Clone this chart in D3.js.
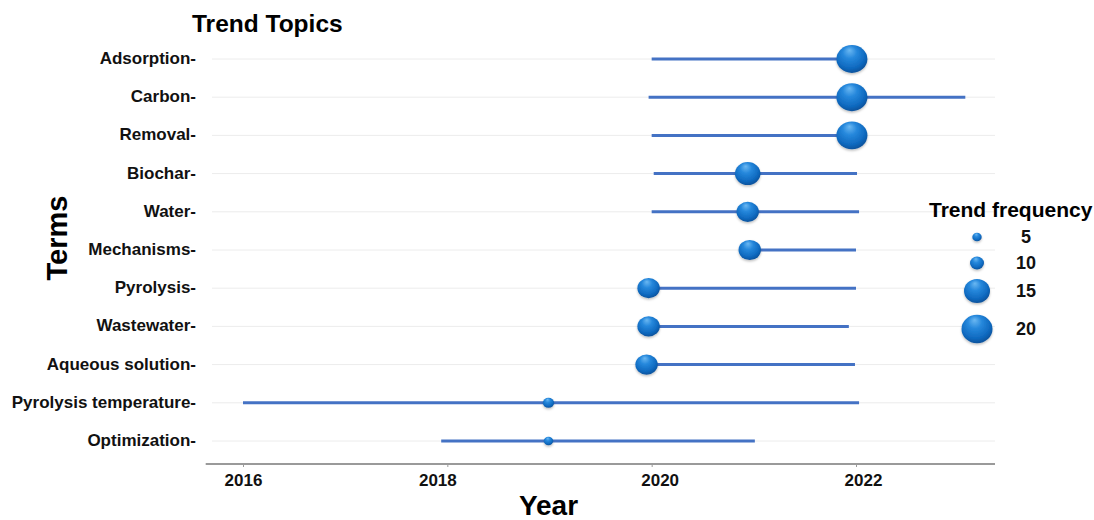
<!DOCTYPE html>
<html>
<head>
<meta charset="utf-8">
<script src="https://cdn.jsdelivr.net/npm/d3@7"></script>
<style>
  html, body { margin: 0; padding: 0; background: #ffffff; }
  svg { display: block; font-family: "Liberation Sans", Arial, sans-serif; }
</style>
</head>
<body>
<svg id="chart" width="1094" height="520"></svg>
<script>
// ---- data ----
const terms = ["Adsorption", "Carbon", "Removal", "Biochar", "Water", "Mechanisms",
  "Pyrolysis", "Wastewater", "Aqueous solution", "Pyrolysis temperature", "Optimization"];
const yearStart  = [2020.0, 2019.97, 2020.0, 2020.02, 2020.0, 2020.96, 2019.97, 2019.97, 2019.95, 2016.0, 2017.94];
const yearMedian = [2021.96, 2021.96, 2021.96, 2020.94, 2020.94, 2020.96, 2019.97, 2019.97, 2019.95, 2018.99, 2018.99];
const yearEnd    = [2021.96, 2023.07, 2021.96, 2022.01, 2022.03, 2022.0, 2022.0, 2021.93, 2021.99, 2022.03, 2021.01];
const frequency  = [20, 20, 20, 14.8, 13.5, 13.5, 13.5, 13.5, 13.5, 7, 5];
const xTicks = [2016, 2018, 2020, 2022];
const legendValues = [5, 10, 15, 20];

// ---- layout ----
const svg = d3.select("#chart");
const font = "'Liberation Sans', Arial, sans-serif";

const x = d3.scaleLinear().domain([2016, 2022]).range([243, 856]);
const y = d3.scalePoint().domain(terms).range([59, 441]);
const r = d3.scaleLinear().domain([5, 10, 15, 20]).range([4.7, 7, 13, 15.5]);

// gradient for 3D bubbles
const defs = svg.append("defs");
const grad = defs.append("radialGradient").attr("id", "ball")
  .attr("cx", "45%").attr("cy", "40%").attr("r", "65%")
  .attr("fx", "42%").attr("fy", "18%");
grad.append("stop").attr("offset", "0%").attr("stop-color", "#6bb8f2");
grad.append("stop").attr("offset", "35%").attr("stop-color", "#2688dc");
grad.append("stop").attr("offset", "75%").attr("stop-color", "#0f69bf");
grad.append("stop").attr("offset", "100%").attr("stop-color", "#0a4c92");
const flt = defs.append("filter").attr("id", "shadow").attr("x", "-30%").attr("y", "-30%").attr("width", "160%").attr("height", "170%");
flt.append("feDropShadow").attr("dx", 0).attr("dy", 1.5).attr("stdDeviation", 1.2)
  .attr("flood-color", "#000").attr("flood-opacity", 0.25);

const data = terms.map((t, i) => ({
  term: t, start: yearStart[i], median: yearMedian[i], end: yearEnd[i], freq: frequency[i]
}));

// gridlines
svg.append("g").selectAll("line").data(terms).join("line")
  .attr("x1", 212).attr("x2", 995)
  .attr("y1", d => y(d)).attr("y2", d => y(d))
  .attr("stroke", "#ececec").attr("stroke-width", 1);

// x axis
const xAxis = d3.axisBottom(x).tickValues(xTicks).tickFormat(d3.format("d")).tickSize(3).tickSizeOuter(0);
const gx = svg.append("g").attr("transform", "translate(0,464)").call(xAxis);
gx.select(".domain").attr("d", "M205.7,0H995").attr("stroke", "#9a9a9a").attr("stroke-width", 2);
gx.selectAll(".tick line").attr("stroke", "#9a9a9a");
gx.selectAll(".tick text")
  .attr("font-family", font).attr("font-size", 17).attr("font-weight", "bold")
  .attr("fill", "#111").attr("y", 10).attr("dy", "0.71em")
  .attr("dx", d => ({2016: 0, 2018: -10, 2020: 8, 2022: 7})[d]);

// segments
svg.append("g").selectAll("line").data(data).join("line")
  .attr("x1", d => x(d.start)).attr("x2", d => x(d.end))
  .attr("y1", d => y(d.term)).attr("y2", d => y(d.term))
  .attr("stroke", "#4472c4").attr("stroke-width", 3);

// bubbles
svg.append("g").selectAll("ellipse").data(data).join("ellipse")
  .attr("cx", d => x(d.median)).attr("cy", d => y(d.term))
  .attr("rx", d => r(d.freq)).attr("ry", d => r(d.freq) * 0.9)
  .attr("fill", "url(#ball)").attr("filter", "url(#shadow)");

// y labels
svg.append("g").selectAll("text").data(terms).join("text")
  .attr("x", 196).attr("y", d => y(d) - 1).attr("dy", "0.35em")
  .attr("text-anchor", "end")
  .attr("font-family", font).attr("font-size", 17).attr("font-weight", "bold").attr("fill", "#111")
  .text(d => d + "-");

// title
svg.append("text").attr("x", 192).attr("y", 31.5)
  .attr("font-family", font).attr("font-size", 24.5).attr("font-weight", "bold").attr("fill", "#000")
  .text("Trend Topics");

// axis titles
svg.append("text").attr("x", 548.5).attr("y", 515).attr("text-anchor", "middle")
  .attr("font-family", font).attr("font-size", 28).attr("font-weight", "bold").attr("fill", "#000")
  .text("Year");
svg.append("text").attr("transform", "translate(67,238) rotate(-90)").attr("text-anchor", "middle")
  .attr("font-family", font).attr("font-size", 29).attr("font-weight", "bold").attr("fill", "#000")
  .text("Terms");

// legend
const legendYs = {5: 237, 10: 263, 15: 291, 20: 329};
svg.append("text").attr("x", 929).attr("y", 216.5)
  .attr("font-family", font).attr("font-size", 21).attr("font-weight", "bold").attr("fill", "#000")
  .text("Trend frequency");
const lg = svg.append("g").selectAll("g").data(legendValues).join("g");
lg.append("ellipse").attr("cx", 977).attr("cy", d => legendYs[d])
  .attr("rx", d => r(d)).attr("ry", d => r(d) * 0.92)
  .attr("fill", "url(#ball)").attr("filter", "url(#shadow)");
lg.append("text").attr("x", 1026).attr("y", d => legendYs[d]).attr("dy", "0.35em")
  .attr("text-anchor", "middle")
  .attr("font-family", font).attr("font-size", 18).attr("font-weight", "bold").attr("fill", "#111")
  .text(d => d);
</script>
</body>
</html>
